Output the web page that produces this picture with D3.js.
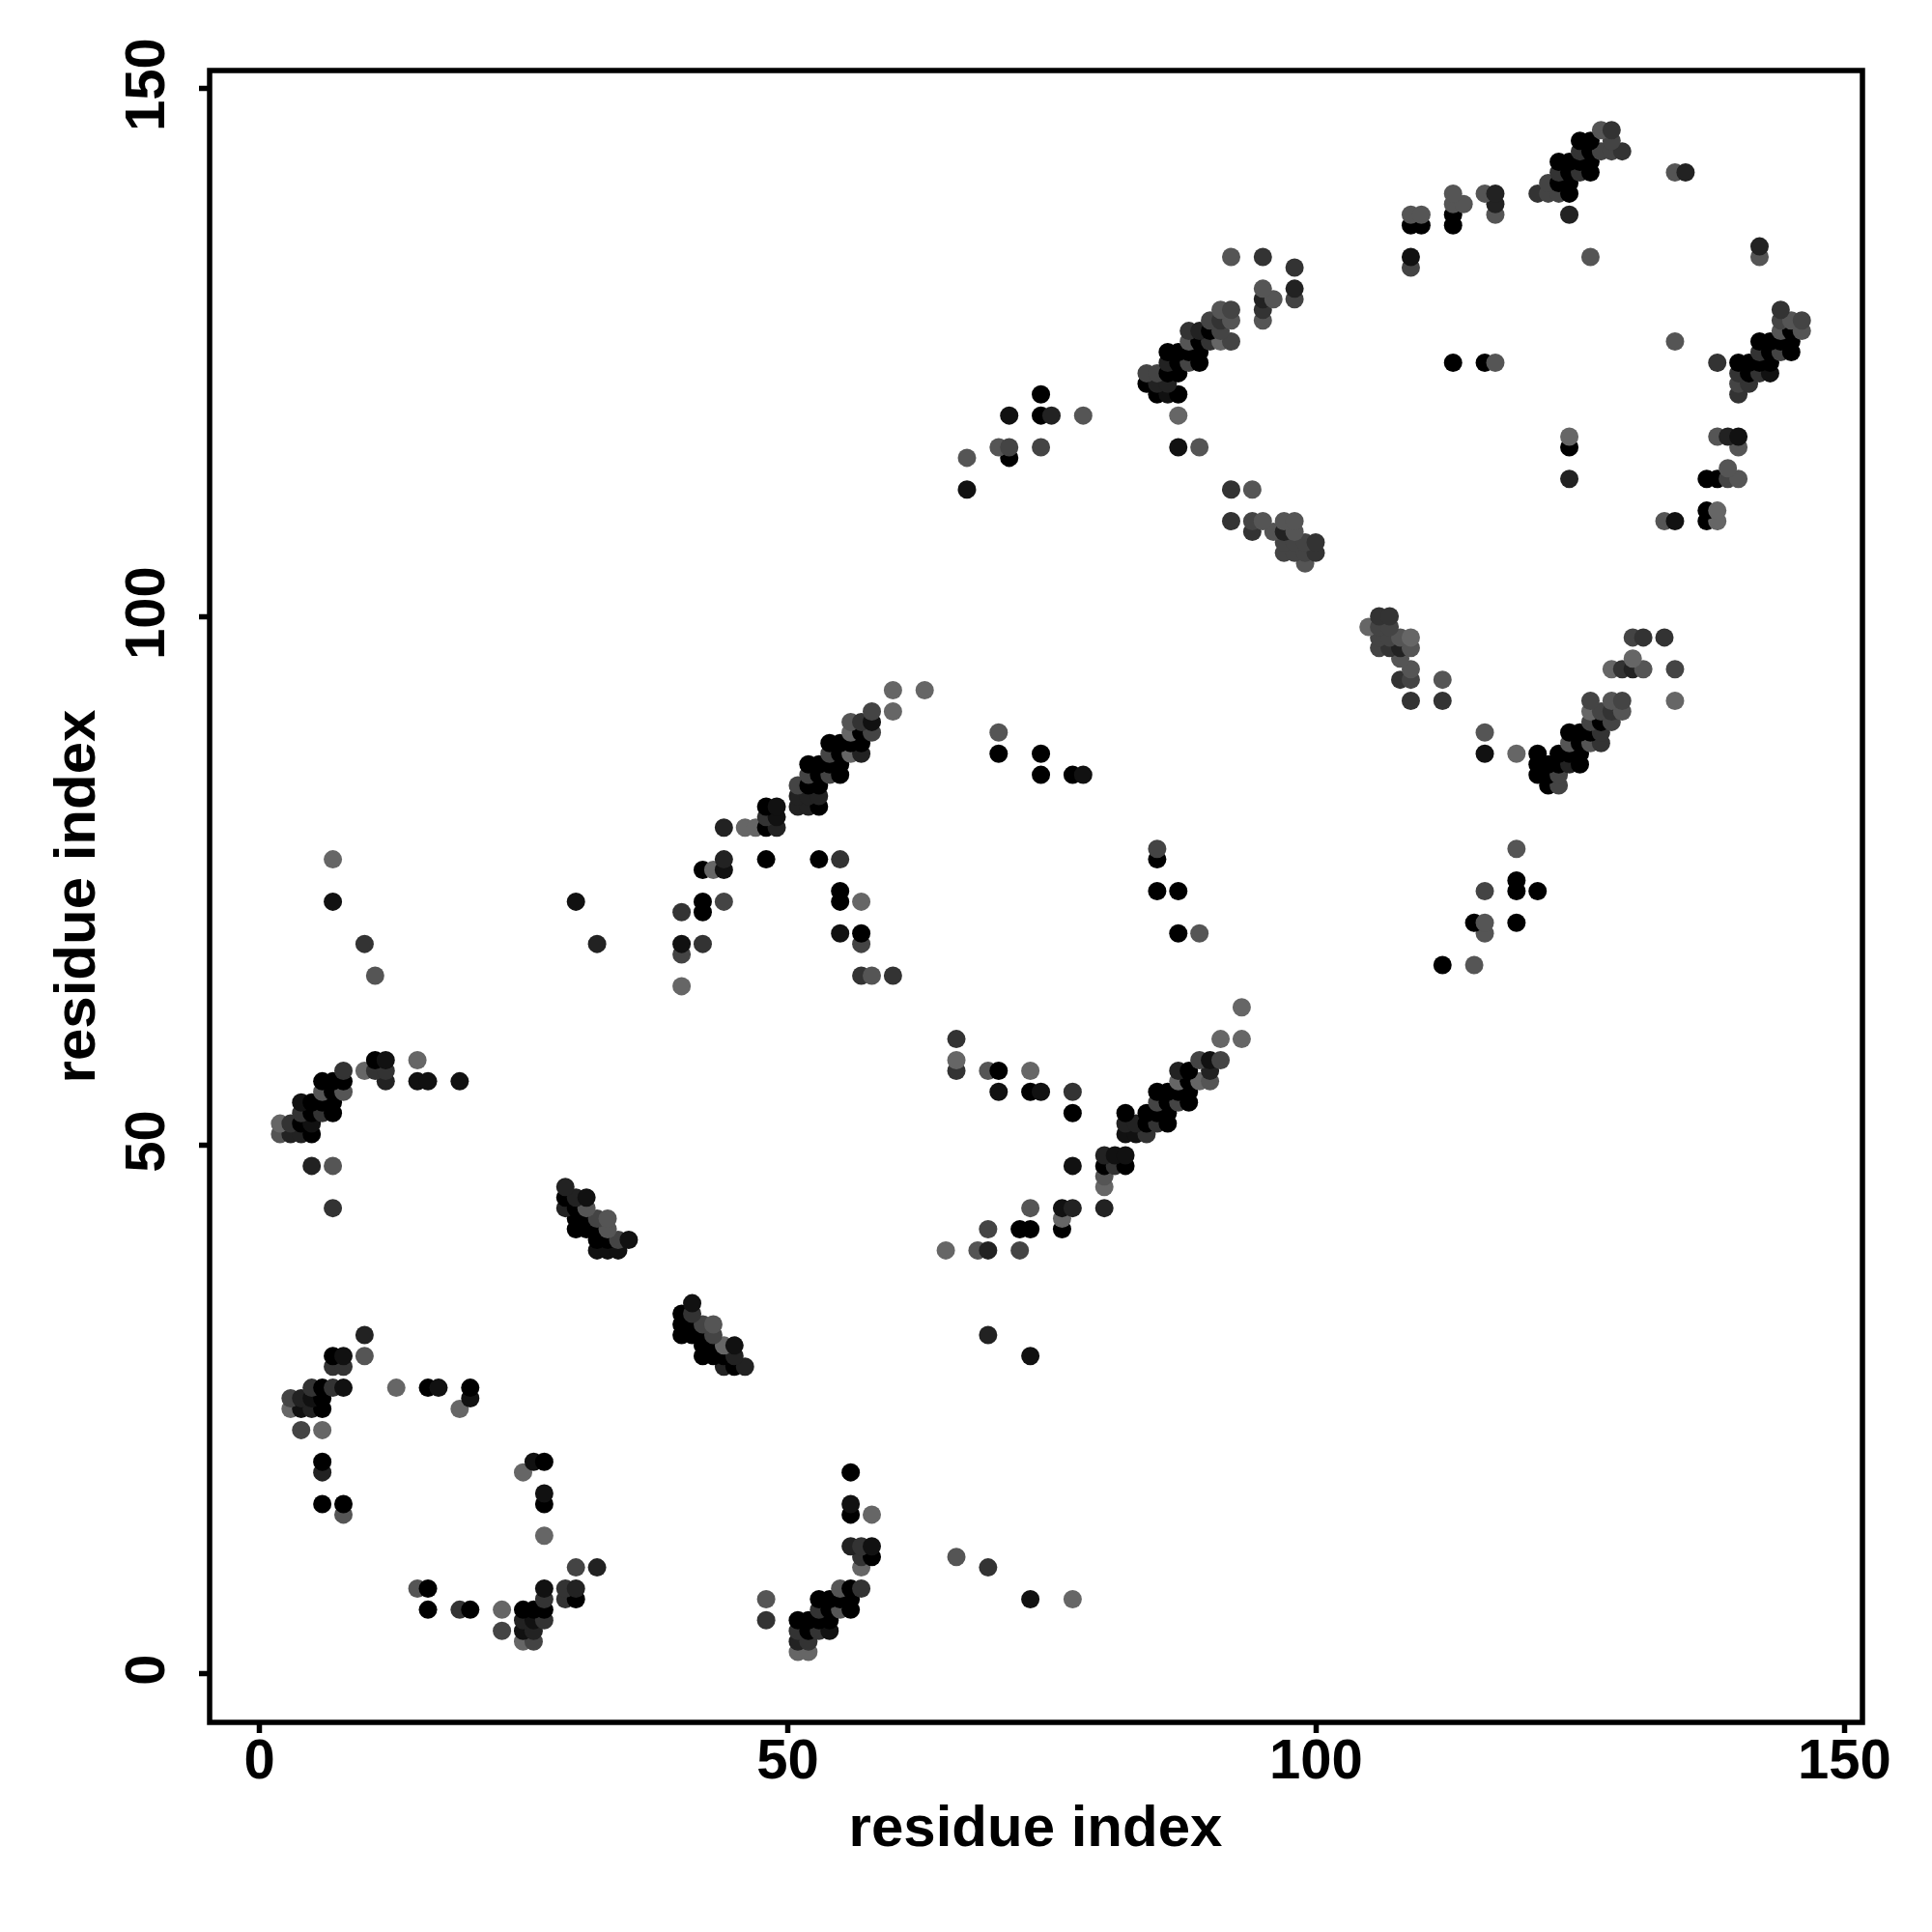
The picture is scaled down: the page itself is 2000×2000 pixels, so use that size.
<!DOCTYPE html>
<html>
<head>
<meta charset="utf-8">
<script src="https://cdn.jsdelivr.net/npm/d3@7"></script>
<style>
html,body{margin:0;padding:0;background:#fff}
svg{display:block}
text{font-family:"Liberation Sans",Arial,sans-serif;font-weight:700;fill:#000}
</style>
</head>
<body>
<svg id="chart" width="2000" height="2000"></svg>
<script>
const xTicks = [0, 50, 100, 150];
const yTicks = [0, 50, 100, 150];
const xLabel = "residue index";
const yLabel = "residue index";
// One row per y residue: x residues and their grey level (0 black .. 6 mid grey)
const rowY = [2,3,4,5,6,7,8,10,11,12,13,15,16,17,19,20,23,25,26,27,29,30,31,32,33,34,35,40,41,42,43,44,45,46,47,48,49,51,52,53,54,55,56,57,58,60,63,65,66,67,68,69,70,71,72,73,74,75,76,77,78,80,81,82,83,84,85,86,87,88,89,90,91,92,93,94,95,96,97,98,99,100,105,106,107,108,109,110,112,113,114,115,116,117,119,121,122,123,124,125,126,127,128,129,130,131,133,134,135,137,138,139,140,141,142,143,144,145,146];
const rowX = [
[51,52],[25,26,51,52],[23,25,26,51,52,53,54],[25,26,27,48,51,52,53,54],
[16,19,20,23,25,26,27,53,54,55,56],[27,29,30,48,53,54,55,56,73,77],[15,16,27,29,30,55,56,57],
[30,32,57,69],[57,58,66],[56,57,58],[27],[8,56,58],[6,8,27,56],[27],[6,25,56],[6,26,27],[4,6],
[3,4,5,6,19],[3,4,5,6,20],[5,6,7,8,13,16,17,20],[7,8,44,45,46],[7,8,10,42,43,44,45,73],
[42,43,44,45],[10,40,41,42,43,69],[40,41,42,43],[40,41],[41],[32,33,34,65,68,69,72],[32,33,34,35],
[30,31,32,33,69,72,73,76],[30,31,32,33,76],[7,29,30,31,73,76,77,80],[29,30,31],[29,80],[80],
[5,7,77,80,81,82],[80,81,82],[2,3,4,5,82,83,84],[2,3,4,5,82,83,84,85,86],[4,5,6,7,77,82,84,85,86],
[4,5,6,7,85,86,87,88],[6,7,8,70,73,74,77,85,86,87,88],[6,7,8,12,15,16,19,87,88,89,90],
[8,10,11,12,66,69,70,73,87,88,90],[11,12,15,66,89,90,91],[66,91,93],[93],[40],[11,57,58,60],[112,115],[40],
[10,32,40,42,57],[55,57,87,89,116],[115,116,119],[40,42],[7,30,42,44,55,57],[55,85,87,116,119,121],[119],
[42,43,44],[7,44,48,53,55,85],[85,119],[44,46,47,48,49],[48,49],[48,49,51,52,53],[51,52,53],
[51,52,53,122,123],[52,53,54,55,74,77,78,121,122,123],[52,53,54,55,121,122,123,124,125],
[54,55,56,57,70,74,116,119,121,123,124,125],[54,55,56,57,124,125,126,127],
[56,57,58,70,116,124,125,126,127],[56,57,58,126,127,128],[58,60,126,127,128,129],[109,112,126,128,129,134],
[60,63],[108,109,112],[109,128,129,130,131,134],[108,130],[106,107,108,109],[106,107,108,109,130,131,133],
[105,106,107],[106,107],[99],[97,98,99,100],[97,98,99,100],[94,96,97,98],[92,94,95,97,98,133,134,137,138],
[137,138],[67,92,94],[124,137,138,139,140],[139],[67,71],[70,71,74,87,89,124,140],[124,138,139,140],
[71,74,75,78,87],[74,85,86,87,140],[84,85,86,140,141],[84,85,86,87,140,141,142,143],
[86,87,88,89,113,116,117,138,140,141,142,143],[86,87,88,89,142,143,144,145],
[88,89,90,91,92,134,142,143,144,145],[88,89,90,91,144,145,146],[90,91,92,95,144,145,146],[91,92,95,144],
[95,96,98],[95,98],[98,109],[92,95,109,126,142],[142],[109,110,113],[109,110,113,117,124],[113,114,117],
[113,116,117,121,122,123,124],[122,123,124],[123,124,125,126,134,135],[123,124,125,126],[125,126,127,128,129],
[125,126,128],[127,128]
];
const rowShade = [
[6,6],[6,4,2,3],[4,1,2,3,0,3,1],[2,1,3,3,0,0,0,0],
[0,3,0,6,0,0,0,3,0,5,0],[3,3,0,5,0,0,0,0,1,6],[5,0,1,3,2,5,0,3],
[4,2,6,3],[3,0,5],[2,3,1],[6],[5,0,6],[0,0,0,1],[1],[2,6,0],[0,1,0],[4,6],
[6,1,2,0,6],[4,2,1,0,1],[3,0,3,1,6,0,1,0],[3,3,2,0,2],[0,1,5,0,0,0,2,1],
[0,0,6,1],[2,0,0,0,4,2],[0,0,4,5],[0,3],[1],[1,1,1,6,5,2,4],[0,0,4,1],
[0,0,0,5,4,0,0,0],[0,0,4,5,6],[3,2,0,5,5,1,2,2],[0,2,1],[2,6],[5],
[2,5,1,0,3,0],[2,1,1],[5,2,2,0,1,1,3],[6,3,0,1,2,2,0,3,0],[3,0,3,0,0,0,0,0,0],
[1,0,0,0,4,0,4,0],[5,0,5,1,0,1,3,0,0,0,0],[0,0,0,2,1,1,1,6,0,6,5],
[3,6,3,3,3,5,0,6,2,0,2],[0,1,6,6,4,1,4],[3,6,6],[6],[6],[5,3,5,3],[0,5],[4],
[3,2,1,3,4],[1,0,0,5,5],[0,5,0],[3,0],[1,1,0,4,0,6],[0,0,0,4,0,0],[0],
[0,6,1],[6,2,0,0,3,0],[4,5],[2,6,6,0,2],[3,1],[0,1,2,2,0],[2,2,2],
[4,0,0,0,4],[4,0,4,0,0,0,1,0,0,4],[0,0,0,0,0,0,0,2,0],
[4,0,6,2,0,0,1,6,0,0,0,0],[0,0,0,0,5,0,5,3],
[6,0,4,5,5,0,0,0,3],[5,3,1,4,0,4],[4,6,6,4,3,5],[3,3,4,5,4,6],
[6,6],[3,4,5],[5,6,3,2,5,4],[5,6],[4,3,2,5],[4,4,5,6,4,3,3],
[6,4,4],[3,3],[5],[4,4,4,3],[4,4,4,3],[3,5,2,5],[3,4,5,5,5,5,1,0,6],
[0,6],[1,3,5],[2,0,0,4,5],[5],[5,0],[5,4,4,1,5,0,5],[6,5,2,1],
[1,0,2,5,6],[0,0,1,0,3],[0,2,2,4,3],[4,4,0,0,3,0,3,1],
[2,0,4,0,0,0,5,3,0,0,0,0],[0,0,0,0,3,0,4,0],
[5,0,3,6,4,5,0,0,0,0],[3,2,0,4,5,0,5],[4,3,5,5,4,5,4],[5,4,3,3],
[2,5,4],[5,2],[3,4],[5,3,1,5,5],[2],[0,0,0],[5,5,0,5,2],[5,5,2],
[5,5,2,3,4,4,0],[4,0,0],[3,0,3,0,5,2],[0,0,0,0],[3,0,4,4,3],
[0,0,4],[5,3]
];

const points = rowY.flatMap((y, r) => rowX[r].map((x, k) => ({x, y, shade: rowShade[r][k]})));
const grey = d3.scaleLinear().domain([0, 6]).range(["#000000", "#666666"]);

const x = d3.scaleLinear().domain([0, 150]).range([268, 1909]);
const y = d3.scaleLinear().domain([0, 150]).range([1732, 91]);
const svg = d3.select("#chart");

svg.append("g").selectAll("circle").data(points).join("circle")
  .attr("cx", d => x(d.x)).attr("cy", d => y(d.y)).attr("r", 9.5)
  .attr("fill", d => grey(d.shade));

svg.append("rect").attr("x", 217).attr("y", 73).attr("width", 1711).attr("height", 1710)
  .attr("fill", "none").attr("stroke", "#000").attr("stroke-width", 5.5);

const xAxis = svg.append("g").attr("transform", "translate(0,1783)")
  .call(d3.axisBottom(x).tickValues(xTicks).tickSize(11).tickPadding(6).tickFormat(d3.format("d")));
const yAxis = svg.append("g").attr("transform", "translate(217,0)")
  .call(d3.axisLeft(y).tickValues(yTicks).tickSize(11).tickFormat(d3.format("d")));
for (const a of [xAxis, yAxis]) {
  a.select(".domain").remove();
  a.selectAll(".tick line").attr("stroke", "#000").attr("stroke-width", 5.5);
  a.selectAll("text").style("font-size", "58px").style("font-family", '"Liberation Sans"').style("font-weight", 700).attr("fill", "#000");
}
yAxis.selectAll("text").attr("x", 0).attr("y", 0).attr("dy", 0)
  .attr("text-anchor", "middle").attr("transform", "translate(-47,-4) rotate(-90)");

svg.append("text").attr("x", 1072).attr("y", 1911).attr("text-anchor", "middle")
  .style("font-size", "60px").text(xLabel);
svg.append("text").attr("transform", "translate(98,928) rotate(-90)").attr("text-anchor", "middle")
  .style("font-size", "60px").text(yLabel);
</script>
</body>
</html>
